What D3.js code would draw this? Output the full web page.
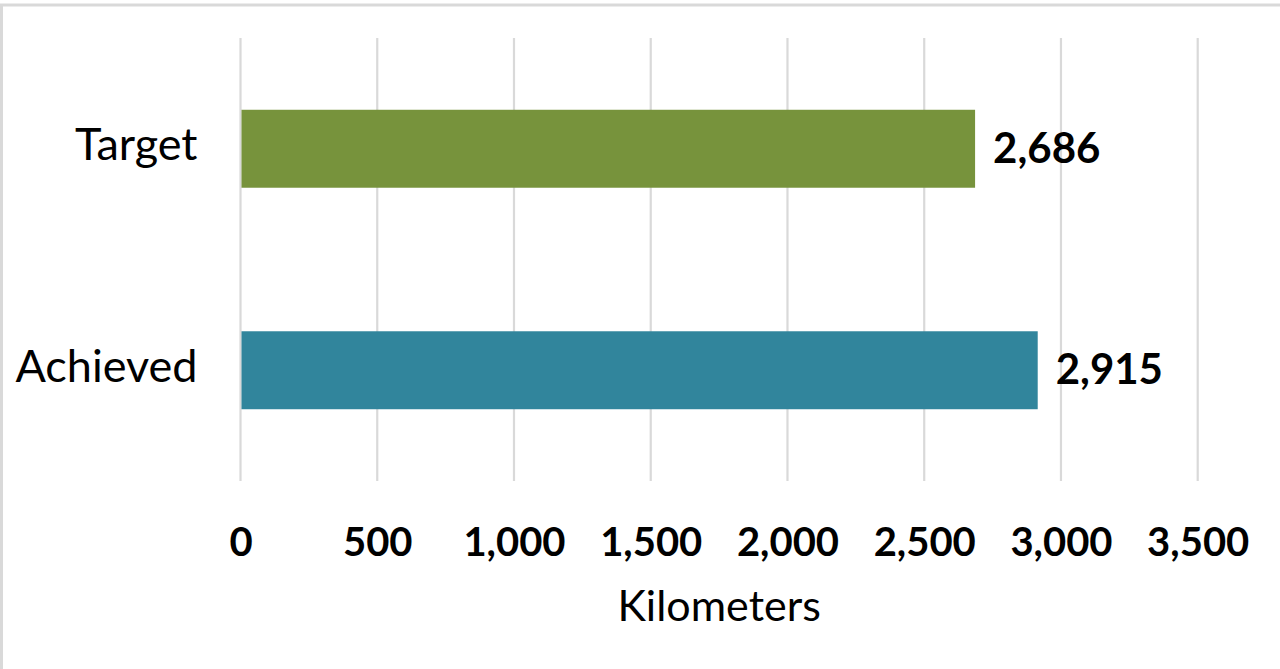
<!DOCTYPE html>
<html>
<head>
<meta charset="utf-8">
<script src="https://cdn.jsdelivr.net/npm/d3@7"></script>
<style>
  html, body { margin: 0; padding: 0; background: #fff; }
  svg { display: block; }
</style>
</head>
<body>
<svg id="chart" width="1280" height="669"></svg>
<script>
const categories = ["Target", "Achieved"];
const values = [2686, 2915];
const colors = ["#77933C", "#31859C"];
const tickValues = [0, 500, 1000, 1500, 2000, 2500, 3000, 3500];
const axisTitle = "Kilometers";

const svg = d3.select("#chart");
const W = 1280, H = 669;
const margin = { left: 240.5, right: 1280 - 1197.7, top: 38, bottom: 669 - 481 };
const fontFamily = "Lato, 'Open Sans', sans-serif";

// outer border (only top and left visible)
svg.append("rect")
  .attr("x", 1.5).attr("y", 5)
  .attr("width", W + 10).attr("height", H + 10)
  .attr("fill", "#fff")
  .attr("stroke", "#d9d9d9").attr("stroke-width", 3);

const x = d3.scaleLinear().domain([0, 3500]).range([margin.left, W - margin.right]);
const y = d3.scaleBand().domain(categories)
  .range([margin.top, H - margin.bottom])
  .paddingInner(0.648).paddingOuter(0.324);

// gridlines
svg.append("g").selectAll("line").data(tickValues).join("line")
  .attr("x1", d => x(d)).attr("x2", d => x(d))
  .attr("y1", margin.top).attr("y2", H - margin.bottom)
  .attr("stroke", "#d9d9d9").attr("stroke-width", 2.2);

// bars
svg.append("g").selectAll("rect").data(categories).join("rect")
  .attr("x", x(0) + 1)
  .attr("y", d => y(d))
  .attr("width", (d, i) => x(values[i]) - x(0) - 1)
  .attr("height", y.bandwidth())
  .attr("fill", (d, i) => colors[i]);

// value labels
svg.append("g").selectAll("text").data(categories).join("text")
  .attr("x", (d, i) => x(values[i]) + 18)
  .attr("y", d => y(d) + y.bandwidth() / 2 + 14)
  .attr("font-family", fontFamily)
  .attr("font-weight", "bold")
  .attr("font-size", 42)
  .attr("fill", "#000")
  .text((d, i) => d3.format(",")(values[i]));

// category labels (y axis)
const yAxis = d3.axisLeft(y).tickSize(0).tickPadding(0);
const yg = svg.append("g").attr("transform", `translate(${x(0) - 43},0)`).call(yAxis);
yg.select(".domain").remove();
yg.selectAll("text")
  .attr("font-family", fontFamily)
  .attr("font-size", 45)
  .attr("fill", "#000")
  .attr("dy", "0.26em");

// x axis tick labels
const xAxis = d3.axisBottom(x).tickValues(tickValues).tickSize(0).tickPadding(0)
  .tickFormat(d3.format(","));
const xg = svg.append("g").attr("transform", `translate(0,${H - margin.bottom})`).call(xAxis);
xg.select(".domain").remove();
xg.selectAll("text")
  .attr("font-family", fontFamily)
  .attr("font-weight", "bold")
  .attr("font-size", 40)
  .attr("fill", "#000")
  .attr("dy", null)
  .attr("y", 75);

// axis title
svg.append("text")
  .attr("x", (x(0) + x(3500)) / 2)
  .attr("y", 621)
  .attr("text-anchor", "middle")
  .attr("font-family", fontFamily)
  .attr("font-size", 43)
  .attr("fill", "#000")
  .text(axisTitle);
</script>
</body>
</html>
